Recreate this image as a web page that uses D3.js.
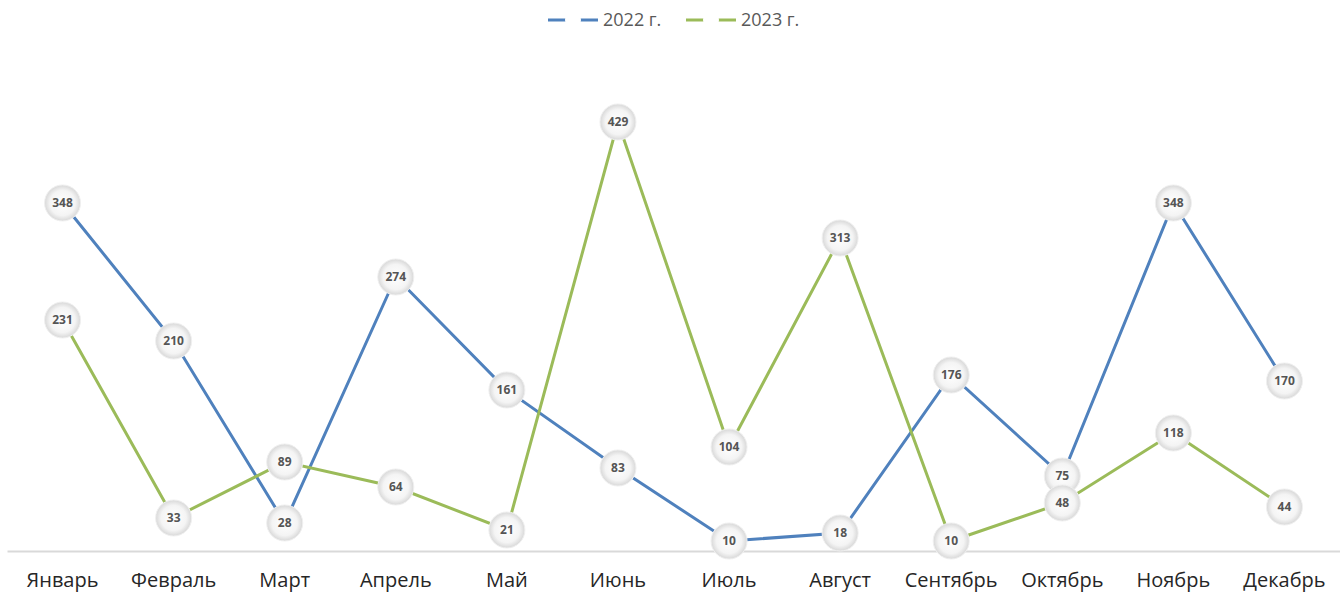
<!DOCTYPE html>
<html>
<head>
<meta charset="utf-8">
<script src="https://cdn.jsdelivr.net/npm/d3@7"></script>
<style>
	body { margin: 0; background: #fff; }
	svg { display: block; }
	.axis-label { font-family: 'Open Sans', sans-serif; font-size: 20px; fill: #262626; }
	.legend-text { font-family: 'Open Sans', sans-serif; font-size: 18px; fill: #595959; }
	.dl { font-family: 'Open Sans', sans-serif; font-size: 12px; fill: #555; font-weight: bold; }
</style>
</head>
<body>
<div id="chart"></div>
<script>
var months = ['Январь', 'Февраль', 'Март', 'Апрель', 'Май', 'Июнь', 'Июль', 'Август', 'Сентябрь', 'Октябрь', 'Ноябрь', 'Декабрь'];
var values2022 = [348, 210, 28, 274, 161, 83, 10, 18, 176, 75, 348, 170];
var values2023 = [231, 33, 89, 64, 21, 429, 104, 313, 10, 48, 118, 44];
var seriesNames = ['2022 г.', '2023 г.'];

var width = 1340, height = 596;

var svg = d3.select('#chart').append('svg')
	.attr('width', width)
	.attr('height', height)

var x = d3.scaleBand()
	.domain(months)
	.range([7, 1340])

var y = d3.scaleLinear()
	.domain([0, 450])
	.range([551, 101])

/* baseline + category axis */
var xAxisG = svg.append('g')
	.attr('transform', 'translate(0,' + y(0) + ')')
	.call(d3.axisBottom(x).tickSize(0).tickPadding(22))
xAxisG.select('.domain').attr('stroke', '#d9d9d9').attr('stroke-width', 2)
xAxisG.selectAll('text').attr('class', 'axis-label').attr('font-family', null).attr('font-size', null).attr('fill', null)

var series = [
	{ name: seriesNames[0], values: values2022, color: '#4f81bd' },
	{ name: seriesNames[1], values: values2023, color: '#9bbb59' }
];

var grad = svg.append('defs').append('radialGradient').attr('id', 'mk')
grad.append('stop').attr('offset', '0%').attr('stop-color', '#ffffff')
grad.append('stop').attr('offset', '70%').attr('stop-color', '#f4f4f4')
grad.append('stop').attr('offset', '100%').attr('stop-color', '#d8d8d8')

var line = d3.line()
	.x(function (d, i) { return x(months[i]) + x.bandwidth() / 2 })
	.y(function (d) { return y(d) })

series.forEach(function (s) {
	svg.append('path')
		.datum(s.values)
		.attr('fill', 'none')
		.attr('stroke', s.color)
		.attr('stroke-width', 3)
		.attr('d', line)
})

series.forEach(function (s) {
	var pts = svg.append('g').selectAll('g').data(s.values).enter().append('g')
		.attr('transform', function (d, i) {
			return 'translate(' + (x(months[i]) + x.bandwidth() / 2) + ',' + y(d) + ')'
		})
	pts.append('circle')
		.attr('r', 18)
		.attr('fill', 'url(#mk)')
		.attr('stroke', '#f0f0f0')
	pts.append('text')
		.attr('class', 'dl')
		.attr('text-anchor', 'middle')
		.attr('dy', '0.35em')
		.text(function (d) { return d })
})

/* legend */
var legX = [548, 686];
series.forEach(function (s, i) {
	var lg = svg.append('g').attr('transform', 'translate(' + legX[i] + ',20)')
	lg.append('line').attr('x1', 0).attr('x2', 50).attr('stroke', s.color).attr('stroke-width', 3)
	lg.append('circle').attr('cx', 25).attr('r', 8).attr('fill', '#fff')
	lg.append('text').attr('class', 'legend-text').attr('x', 55).attr('dy', '0.35em').text(s.name)
})
</script>
</body>
</html>
